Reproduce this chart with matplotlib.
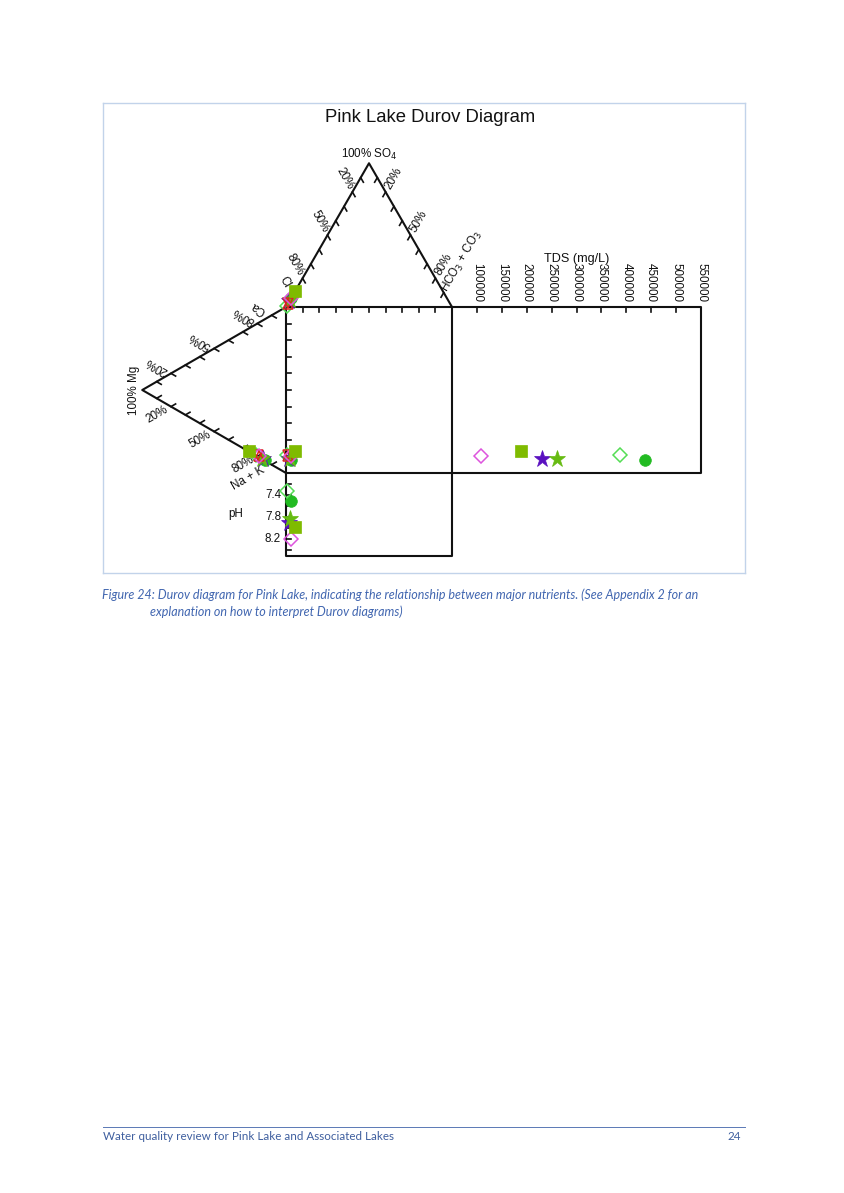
import numpy as np
import matplotlib.pyplot as plt
from matplotlib.lines import Line2D

plt.rcParams['font.family'] = ['Liberation Sans', 'DejaVu Sans']

# Pink Lake samples (anion %, cation %, pH, TDS mg/L)
so4 = [6, 11, 4, 5, 1, 6, 2, 3]
hco3 = [0, 0, 0, 0, 0, 0, 0, 0]
mg = [18.5, 26, 16, 16.5, 21, 14.5, 19, 19.5]
ca = [1.0, 0.5, 0.5, 0.3, 0.5, 0.3, 1.0, 1.0]
ph = [8.2, 7.97, 7.9, 7.83, 7.33, 7.5, np.nan, np.nan]
tds = [108000, 188000, 231000, 261000, 387000, 438000, np.nan, np.nan]

markers = ['D', 's', '*', '*', 'D', 'o', '^', 'v']
colors = ['#dd55dd', '#7fbb00', '#5a10c0', '#66bb11', '#55dd55', '#22bb22', '#dd2222', '#dd2222']
filled = [False, True, True, True, False, True, False, False]
msize = [7.2, 8.0, 12.5, 12.5, 7.2, 8.4, 7.5, 7.5]
order = [5, 4, 2, 3, 6, 7, 0, 1]

tds_ticks = [100000, 150000, 200000, 250000, 300000, 350000, 400000, 450000, 500000, 550000]
ph_labels = [7.4, 7.8, 8.2]
ph_ticks = [7.2, 7.4, 7.6, 7.8, 8.0, 8.2, 8.4]
pct_labels = [20, 50, 80]

PH_MIN, PH_MAX = 7.0, 8.5
TDS_MIN, TDS_MAX = 50000, 550000
H = np.sqrt(3) / 2 * 100     # triangle height, square side = 100
PH_H = 50                    # pH box height
TDS_W = 150                  # TDS box width
U = 1.66                     # px per unit

fig = plt.figure(figsize=(8.44, 11.93), dpi=100)
W_PX, H_PX = 844, 1193
ax = fig.add_axes([103 / W_PX, (H_PX - 573) / H_PX, 642 / W_PX, 470 / H_PX])
ax.set_xlim((103 - 286) / U, (745 - 286) / U)
ax.set_ylim((473 - 573) / U, (473 - 103) / U)
ax.set_xticks([])
ax.set_yticks([])
for s in ax.spines.values():
    s.set_color('#c2d3ea')
    s.set_linewidth(1.0)

LW = 1.5
K = '#111111'
FS = 8.4


def seg(p, q, lw=LW):
    ax.plot([p[0], q[0]], [p[1], q[1]], color=K, lw=lw, solid_capstyle='projecting', zorder=2)


# frame
ax.plot([0, 50, 100], [100, 100 + H, 100], color=K, lw=LW, zorder=2)
ax.plot([0, -H, 0], [100, 50, 0], color=K, lw=LW, zorder=2)
ax.plot([0, 100 + TDS_W, 100 + TDS_W, 0, 0], [100, 100, 0, 0, 100], color=K, lw=LW, zorder=2)
ax.plot([0, 0, 100, 100], [0, -PH_H, -PH_H, 100], color=K, lw=LW, zorder=2)

tl = 3.2
# triangle edge ticks (along grid direction, pointing inward)
for f in np.arange(1, 10) / 10:
    # anion left (Cl - SO4)
    p = (50 * f, 100 + H * f)
    seg(p, (p[0] + tl * 0.5, p[1] - tl * 0.866), lw=1.2)
    # anion right (HCO3 - SO4)
    p = (100 - 50 * f, 100 + H * f)
    seg(p, (p[0] - tl * 0.5, p[1] - tl * 0.866), lw=1.2)
    # cation upper (Mg - Ca)
    p = (-H * f, 100 - 50 * f)
    seg(p, (p[0] + tl * 0.866, p[1] - tl * 0.5), lw=1.2)
    # cation lower (Mg - Na+K)
    p = (-H * f, 50 * f)
    seg(p, (p[0] + tl * 0.866, p[1] + tl * 0.5), lw=1.2)
    # square
    seg((100 * f, 100), (100 * f, 100 - tl), lw=1.2)
    seg((0, 100 * f), (tl, 100 * f), lw=1.2)


def tds_x(v):
    return 100 + (np.asarray(v, dtype=float) - TDS_MIN) / (TDS_MAX - TDS_MIN) * TDS_W


def ph_y(v):
    return -(np.asarray(v, dtype=float) - PH_MIN) / (PH_MAX - PH_MIN) * PH_H


for t in tds_ticks[:-1]:
    seg((tds_x(t), 100), (tds_x(t), 100 - tl), lw=1.2)
for t in tds_ticks:
    ax.text(tds_x(t), 103, str(t), rotation=-90, ha='center', va='bottom', fontsize=FS, color=K)
ax.text(tds_x((TDS_MIN + TDS_MAX) / 2), 129, 'TDS (mg/L)', ha='center', va='center', fontsize=FS + 0.7, color=K)

for t in ph_ticks:
    seg((0, ph_y(t)), (tl, ph_y(t)), lw=1.2)
for t in ph_labels:
    ax.text(-3, ph_y(t), f'{t:.1f}', ha='right', va='center', fontsize=FS, color=K)
ax.text(-30, -PH_H / 2, 'pH', ha='center', va='center', fontsize=FS, color=K)

# percentage labels along edges
d = 9.6
for v in pct_labels:
    p = v / 100
    # anion left: Cl %
    x, y = 50 * (1 - p), 100 + H * (1 - p)
    ax.text(x - d * 0.5, y + d * 0.866, f'{v}%', rotation=-60, ha='center', va='center',
            rotation_mode='anchor', fontsize=FS, color=K)
    # anion right: HCO3 %
    x, y = 100 * p + 50 * (1 - p), 100 + H * (1 - p)
    ax.text(x + d * 0.5, y + d * 0.866, f'{v}%', rotation=60, ha='center', va='center',
            rotation_mode='anchor', fontsize=FS, color=K)
    # cation upper: Ca %
    x, y = -H * (1 - p), 100 * p + 50 * (1 - p)
    ax.text(x - d * 0.866, y + d * 0.5, f'{v}%', rotation=150, ha='center', va='center',
            rotation_mode='anchor', fontsize=FS, color=K)
    # cation lower: Na+K %
    x, y = -H * (1 - p), 50 * (1 - p)
    ax.text(x - d * 0.866, y - d * 0.5, f'{v}%', rotation=30, ha='center', va='center',
            rotation_mode='anchor', fontsize=FS, color=K)

# end member names
ax.text(50, 100 + H + 0.8, '100% SO$_4$', ha='center', va='bottom', fontsize=FS, color=K)
ax.text(-H - 1.2, 50, '100% Mg', rotation=90, ha='right', va='center', fontsize=FS, color=K)
x, y = 50 * 0.08, 100 + H * 0.08
ax.text(x - 9 * 0.5, y + 9 * 0.866, 'Cl', rotation=-60, ha='center', va='center',
        rotation_mode='anchor', fontsize=FS, color=K)
x, y = 95, 100 + H * 0.1
ax.text(x + 22 * 0.5, y + 22 * 0.866, 'HCO$_3$ + CO$_3$', rotation=60, ha='center', va='center',
        rotation_mode='anchor', fontsize=FS, color=K)
x, y = -H * 0.1, 95
ax.text(x - 9 * 0.866, y + 9 * 0.5, 'Ca', rotation=150, ha='center', va='center',
        rotation_mode='anchor', fontsize=FS, color=K)
x, y = -H * 0.1, 5
ax.text(x - 16 * 0.866, y - 16 * 0.5, 'Na + K', rotation=30, ha='center', va='center',
        rotation_mode='anchor', fontsize=FS, color=K)

# sample positions
so4_a = np.array(so4, dtype=float)
hco3_a = np.array(hco3, dtype=float)
mg_a = np.array(mg, dtype=float)
ca_a = np.array(ca, dtype=float)
an_x = hco3_a + so4_a / 2
an_y = 100 + H * so4_a / 100
cat_x = -H * mg_a / 100
cat_y = ca_a + mg_a / 2
ph_pos = ph_y(ph)
tds_pos = tds_x(tds)

for z, i in enumerate(order):
    kw = dict(marker=markers[i], ms=msize[i], linestyle='none', zorder=5 + z,
              markeredgecolor=colors[i], markeredgewidth=1.1 if not filled[i] else 0.5,
              markerfacecolor=colors[i] if filled[i] else 'none')
    xs = [an_x[i], cat_x[i], an_x[i], an_x[i], tds_pos[i]]
    ys = [an_y[i], cat_y[i], cat_y[i], ph_pos[i], cat_y[i]]
    ax.plot(xs, ys, **kw)

# page elements
fig.text(430 / W_PX, 1 - 118 / H_PX, 'Pink Lake Durov Diagram', ha='center', va='center',
         fontsize=13.3, color='#111111')
cap_kw = dict(ha='left', va='center', fontsize=9.0, color='#4166b0', style='italic',
              family=['Lato', 'DejaVu Sans'])
fig.text(102 / W_PX, 1 - 595 / H_PX, 'Figure 24: Durov diagram for Pink Lake, indicating the relationship '
         'between major nutrients. (See Appendix 2 for an', **cap_kw)
fig.text(150 / W_PX, 1 - 612 / H_PX, 'explanation on how to interpret Durov diagrams)', **cap_kw)
fig.add_artist(Line2D([103 / W_PX, 745 / W_PX], [1 - 1127 / H_PX, 1 - 1127 / H_PX],
                      color='#5a78b5', lw=0.7))
foot_kw = dict(va='center', fontsize=8.4, color='#3f5f9f', family=['Lato', 'DejaVu Sans'])
fig.text(103 / W_PX, 1 - 1137 / H_PX, 'Water quality review for Pink Lake and Associated Lakes',
         ha='left', **foot_kw)
fig.text(741 / W_PX, 1 - 1137 / H_PX, '24', ha='right', **foot_kw)

fig.savefig('out.png', dpi=100)
